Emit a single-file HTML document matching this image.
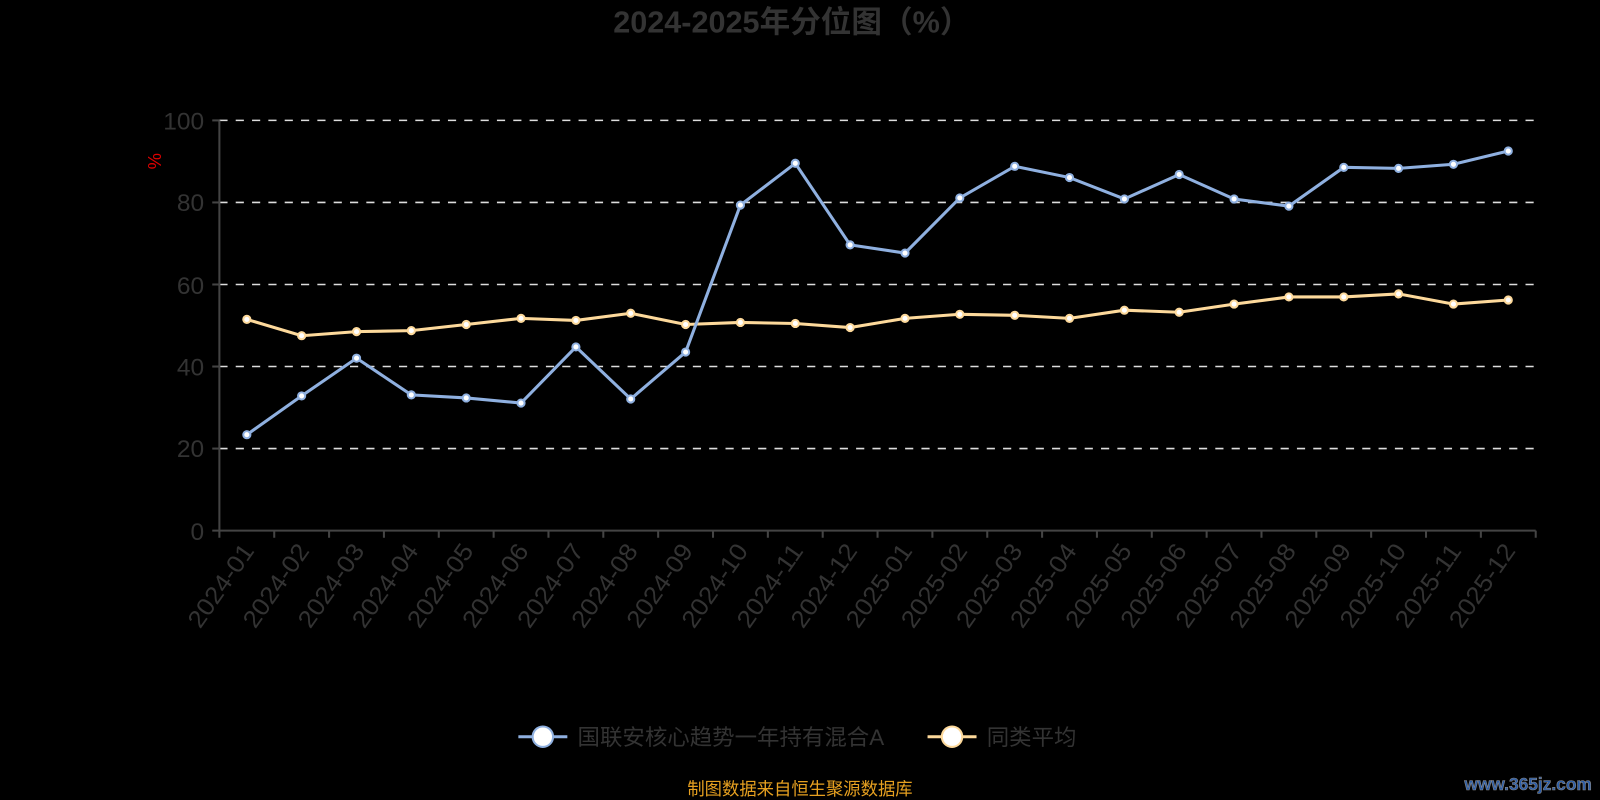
<!DOCTYPE html>
<html><head><meta charset="utf-8"><style>
html,body{margin:0;padding:0;background:#000;}
svg{display:block;}
text{font-family:"Liberation Sans","Noto Sans CJK SC",sans-serif;}
</style></head><body>
<svg width="1600" height="800" viewBox="0 0 1568 784" xmlns="http://www.w3.org/2000/svg">
<rect width="1568" height="784" fill="#000"/>
<text x="776" y="32" text-anchor="middle" font-size="30" font-weight="bold" fill="#333">2024-2025年分位图（%）</text>
<text x="158" y="158" font-size="18" fill="#d00" transform="rotate(-90 158 158)" text-anchor="middle">%</text>
<g stroke="#ddd" stroke-width="1.5" stroke-dasharray="8,8">
<line x1="215" y1="118" x2="1505" y2="118"/>
<line x1="215" y1="198.4" x2="1505" y2="198.4"/>
<line x1="215" y1="278.8" x2="1505" y2="278.8"/>
<line x1="215" y1="359.2" x2="1505" y2="359.2"/>
<line x1="215" y1="439.6" x2="1505" y2="439.6"/>
</g>
<g stroke="#444" stroke-width="2">
<line x1="215" y1="118" x2="215" y2="520"/>
<line x1="208" y1="520" x2="1505" y2="520"/>
<line x1="208" y1="118" x2="215" y2="118"/><line x1="208" y1="198.4" x2="215" y2="198.4"/><line x1="208" y1="278.8" x2="215" y2="278.8"/><line x1="208" y1="359.2" x2="215" y2="359.2"/><line x1="208" y1="439.6" x2="215" y2="439.6"/>
<line x1="215" y1="520" x2="215" y2="527"/><line x1="268.75" y1="520" x2="268.75" y2="527"/><line x1="322.5" y1="520" x2="322.5" y2="527"/><line x1="376.25" y1="520" x2="376.25" y2="527"/><line x1="430" y1="520" x2="430" y2="527"/><line x1="483.75" y1="520" x2="483.75" y2="527"/><line x1="537.5" y1="520" x2="537.5" y2="527"/><line x1="591.25" y1="520" x2="591.25" y2="527"/><line x1="645" y1="520" x2="645" y2="527"/><line x1="698.75" y1="520" x2="698.75" y2="527"/><line x1="752.5" y1="520" x2="752.5" y2="527"/><line x1="806.25" y1="520" x2="806.25" y2="527"/><line x1="860" y1="520" x2="860" y2="527"/><line x1="913.75" y1="520" x2="913.75" y2="527"/><line x1="967.5" y1="520" x2="967.5" y2="527"/><line x1="1021.25" y1="520" x2="1021.25" y2="527"/><line x1="1075" y1="520" x2="1075" y2="527"/><line x1="1128.75" y1="520" x2="1128.75" y2="527"/><line x1="1182.5" y1="520" x2="1182.5" y2="527"/><line x1="1236.25" y1="520" x2="1236.25" y2="527"/><line x1="1290" y1="520" x2="1290" y2="527"/><line x1="1343.75" y1="520" x2="1343.75" y2="527"/><line x1="1397.5" y1="520" x2="1397.5" y2="527"/><line x1="1451.25" y1="520" x2="1451.25" y2="527"/><line x1="1505" y1="520" x2="1505" y2="527"/>
</g>
<g font-size="24" fill="#333" text-anchor="end">
<text x="200" y="127">100</text><text x="200" y="207">80</text><text x="200" y="288">60</text><text x="200" y="368">40</text><text x="200" y="448">20</text><text x="200" y="529">0</text>
</g>
<g font-size="24" fill="#333" text-anchor="end">
<text transform="translate(250,540) rotate(-55)" textLength="94" lengthAdjust="spacingAndGlyphs">2024-01</text>
<text transform="translate(304,540) rotate(-55)" textLength="94" lengthAdjust="spacingAndGlyphs">2024-02</text>
<text transform="translate(358,540) rotate(-55)" textLength="94" lengthAdjust="spacingAndGlyphs">2024-03</text>
<text transform="translate(411,540) rotate(-55)" textLength="94" lengthAdjust="spacingAndGlyphs">2024-04</text>
<text transform="translate(465,540) rotate(-55)" textLength="94" lengthAdjust="spacingAndGlyphs">2024-05</text>
<text transform="translate(519,540) rotate(-55)" textLength="94" lengthAdjust="spacingAndGlyphs">2024-06</text>
<text transform="translate(573,540) rotate(-55)" textLength="94" lengthAdjust="spacingAndGlyphs">2024-07</text>
<text transform="translate(626,540) rotate(-55)" textLength="94" lengthAdjust="spacingAndGlyphs">2024-08</text>
<text transform="translate(680,540) rotate(-55)" textLength="94" lengthAdjust="spacingAndGlyphs">2024-09</text>
<text transform="translate(734,540) rotate(-55)" textLength="94" lengthAdjust="spacingAndGlyphs">2024-10</text>
<text transform="translate(788,540) rotate(-55)" textLength="94" lengthAdjust="spacingAndGlyphs">2024-11</text>
<text transform="translate(841,540) rotate(-55)" textLength="94" lengthAdjust="spacingAndGlyphs">2024-12</text>
<text transform="translate(895,540) rotate(-55)" textLength="94" lengthAdjust="spacingAndGlyphs">2025-01</text>
<text transform="translate(949,540) rotate(-55)" textLength="94" lengthAdjust="spacingAndGlyphs">2025-02</text>
<text transform="translate(1003,540) rotate(-55)" textLength="94" lengthAdjust="spacingAndGlyphs">2025-03</text>
<text transform="translate(1056,540) rotate(-55)" textLength="94" lengthAdjust="spacingAndGlyphs">2025-04</text>
<text transform="translate(1110,540) rotate(-55)" textLength="94" lengthAdjust="spacingAndGlyphs">2025-05</text>
<text transform="translate(1164,540) rotate(-55)" textLength="94" lengthAdjust="spacingAndGlyphs">2025-06</text>
<text transform="translate(1218,540) rotate(-55)" textLength="94" lengthAdjust="spacingAndGlyphs">2025-07</text>
<text transform="translate(1271,540) rotate(-55)" textLength="94" lengthAdjust="spacingAndGlyphs">2025-08</text>
<text transform="translate(1325,540) rotate(-55)" textLength="94" lengthAdjust="spacingAndGlyphs">2025-09</text>
<text transform="translate(1379,540) rotate(-55)" textLength="94" lengthAdjust="spacingAndGlyphs">2025-10</text>
<text transform="translate(1433,540) rotate(-55)" textLength="94" lengthAdjust="spacingAndGlyphs">2025-11</text>
<text transform="translate(1486,540) rotate(-55)" textLength="94" lengthAdjust="spacingAndGlyphs">2025-12</text>
</g>
<polyline fill="none" stroke="#fdd99b" stroke-width="3" points="241.9,313 295.6,329 349.4,325 403.1,324 456.9,318 510.6,312 564.4,314 618.1,307 671.9,318 725.6,316 779.4,317 833.1,321 886.9,312 940.6,308 994.4,309 1048.1,312 1101.9,304 1155.6,306 1209.4,298 1263.1,291 1316.9,291 1370.6,288 1424.4,298 1478.1,294"/>
<polyline fill="none" stroke="#8fb0e0" stroke-width="3" points="241.9,426 295.6,388 349.4,351 403.1,387 456.9,390 510.6,395 564.4,340 618.1,391 671.9,345 725.6,201 779.4,160 833.1,240 886.9,248 940.6,194 994.4,163 1048.1,174 1101.9,195 1155.6,171 1209.4,195 1263.1,202 1316.9,164 1370.6,165 1424.4,161 1478.1,148"/>
<g fill="#fff" stroke="#fdd99b" stroke-width="2">
<circle cx="241.9" cy="313" r="3.5"/><circle cx="295.6" cy="329" r="3.5"/><circle cx="349.4" cy="325" r="3.5"/><circle cx="403.1" cy="324" r="3.5"/><circle cx="456.9" cy="318" r="3.5"/><circle cx="510.6" cy="312" r="3.5"/><circle cx="564.4" cy="314" r="3.5"/><circle cx="618.1" cy="307" r="3.5"/><circle cx="671.9" cy="318" r="3.5"/><circle cx="725.6" cy="316" r="3.5"/><circle cx="779.4" cy="317" r="3.5"/><circle cx="833.1" cy="321" r="3.5"/><circle cx="886.9" cy="312" r="3.5"/><circle cx="940.6" cy="308" r="3.5"/><circle cx="994.4" cy="309" r="3.5"/><circle cx="1048.1" cy="312" r="3.5"/><circle cx="1101.9" cy="304" r="3.5"/><circle cx="1155.6" cy="306" r="3.5"/><circle cx="1209.4" cy="298" r="3.5"/><circle cx="1263.1" cy="291" r="3.5"/><circle cx="1316.9" cy="291" r="3.5"/><circle cx="1370.6" cy="288" r="3.5"/><circle cx="1424.4" cy="298" r="3.5"/><circle cx="1478.1" cy="294" r="3.5"/>
</g>
<g fill="#fff" stroke="#8fb0e0" stroke-width="2">
<circle cx="241.9" cy="426" r="3.5"/><circle cx="295.6" cy="388" r="3.5"/><circle cx="349.4" cy="351" r="3.5"/><circle cx="403.1" cy="387" r="3.5"/><circle cx="456.9" cy="390" r="3.5"/><circle cx="510.6" cy="395" r="3.5"/><circle cx="564.4" cy="340" r="3.5"/><circle cx="618.1" cy="391" r="3.5"/><circle cx="671.9" cy="345" r="3.5"/><circle cx="725.6" cy="201" r="3.5"/><circle cx="779.4" cy="160" r="3.5"/><circle cx="833.1" cy="240" r="3.5"/><circle cx="886.9" cy="248" r="3.5"/><circle cx="940.6" cy="194" r="3.5"/><circle cx="994.4" cy="163" r="3.5"/><circle cx="1048.1" cy="174" r="3.5"/><circle cx="1101.9" cy="195" r="3.5"/><circle cx="1155.6" cy="171" r="3.5"/><circle cx="1209.4" cy="195" r="3.5"/><circle cx="1263.1" cy="202" r="3.5"/><circle cx="1316.9" cy="164" r="3.5"/><circle cx="1370.6" cy="165" r="3.5"/><circle cx="1424.4" cy="161" r="3.5"/><circle cx="1478.1" cy="148" r="3.5"/>
</g>
<line x1="508" y1="722" x2="556" y2="722" stroke="#8fb0e0" stroke-width="3"/>
<circle cx="532" cy="722" r="10" fill="#fff" stroke="#8fb0e0" stroke-width="2"/>
<text x="566" y="730" font-size="22" fill="#333">国联安核心趋势一年持有混合A</text>
<line x1="909" y1="722" x2="957" y2="722" stroke="#fdd99b" stroke-width="3"/>
<circle cx="933" cy="722" r="10" fill="#fff" stroke="#fdd99b" stroke-width="2"/>
<text x="967" y="730" font-size="22" fill="#333">同类平均</text>
<text x="784" y="779" font-size="17" fill="#e6a020" text-anchor="middle">制图数据来自恒生聚源数据库</text>
<text x="1560" y="774" font-size="17" font-weight="bold" fill="#2a5ca8" stroke="#888" stroke-width="0.6" text-anchor="end" font-family="Liberation Serif,serif">www.365jz.com</text>
</svg>
</body></html>
